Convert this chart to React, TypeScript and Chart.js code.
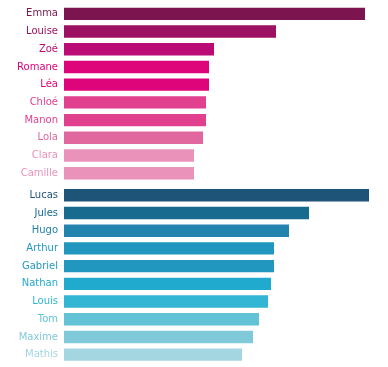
import React, { useEffect, useRef } from "react";
import { Chart, registerables } from "chart.js";

Chart.register(...registerables);

const girls = ["Emma", "Louise", "Zoé", "Romane", "Léa", "Chloé", "Manon", "Lola", "Clara", "Camille"];
const girlValues = [301, 212, 150, 145, 145, 142, 142, 139, 130, 130];
const girlColors = ["#7B144F", "#9C1161", "#BA0C74", "#DE0479", "#DE0479", "#E0408E", "#E0408E", "#E1679F", "#EA92BA", "#EA92BA"];

const boys = ["Lucas", "Jules", "Hugo", "Arthur", "Gabriel", "Nathan", "Louis", "Tom", "Maxime", "Mathis"];
const boyValues = [305, 245, 225, 210, 210, 207, 204, 195, 189, 178];
const boyColors = ["#1D5478", "#166B8E", "#2283AE", "#2197BF", "#2197BF", "#20AACE", "#32B6D3", "#63C3D6", "#80C9D9", "#A3D6E0"];

const GAP = 0.25;

export default function App() {
  const ref = useRef<HTMLCanvasElement>(null);
  useEffect(() => {
    const names = [...girls, ...boys];
    const pos = names.map((_, i) => (i < girls.length ? i : i + GAP));
    const values = [...girlValues, ...boyValues];
    const colors = [...girlColors, ...boyColors];
    const data = values.map((v, i) => ({ x: v, y: pos[i] }));
    const chart = new Chart(ref.current!, {
      type: "bar",
      data: {
        datasets: [
          {
            data: data as any,
            backgroundColor: colors,
            borderWidth: 0,
            barPercentage: 0.7,
            categoryPercentage: 1,
          },
        ],
      },
      options: {
        indexAxis: "y",
        animation: false,
        responsive: false,
        layout: { padding: { top: 5, bottom: 3.5, left: 0, right: 14 } },
        plugins: { legend: { display: false }, tooltip: { enabled: false } },
        scales: {
          x: { type: "linear", min: 0, max: 310, display: false },
          y: {
            type: "linear",
            reverse: true,
            offset: false,
            min: -0.5,
            max: 19.5 + GAP,
            grid: { display: false, offset: false, drawTicks: true, tickLength: 6 },
            border: { display: false },
            afterBuildTicks: (axis: any) => {
              axis.ticks = pos.map((v) => ({ value: v }));
            },
            afterFit: (s: any) => {
              s.width = 64;
              s.paddingTop = 0;
              s.paddingBottom = 0;
            },
            ticks: {
              autoSkip: false,
              padding: 0,
              callback: (v: any) => names[pos.indexOf(Number(v))],
              color: (c: any) => colors[c.index],
              font: { family: "DejaVu Sans", size: 10, lineHeight: 0.1 },
            },
          },
        },
      },
    });
    return () => chart.destroy();
  }, []);
  return (
    <div style={{ position: "fixed", left: 0, top: 0, width: 388, height: 367, background: "#fff" }}>
      <canvas ref={ref} width={388} height={367} />
    </div>
  );
}
